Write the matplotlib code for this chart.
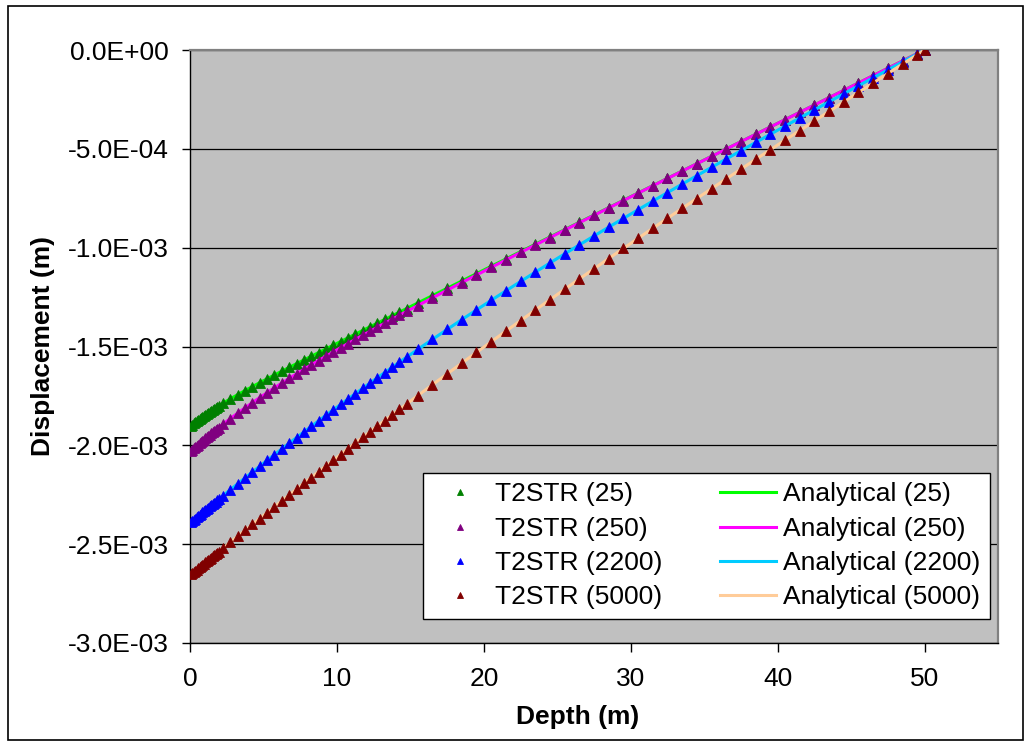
import numpy as np
import matplotlib
matplotlib.use("Agg")
import matplotlib.pyplot as plt
from matplotlib.patches import Rectangle
from matplotlib.ticker import FuncFormatter

plt.rcParams['font.family'] = ['Liberation Sans', 'DejaVu Sans']

# element centres of the mesh (m), surface at 0, fixed base at 50
depth = [0.05, 0.15, 0.25, 0.35, 0.45, 0.55, 0.65, 0.75, 0.85, 0.95,
         1.05, 1.15, 1.25, 1.35, 1.45, 1.55, 1.65, 1.75, 1.85, 1.95,
         2.25, 2.75, 3.25, 3.75, 4.25, 4.75, 5.25, 5.75, 6.25, 6.75,
         7.25, 7.75, 8.25, 8.75, 9.25, 9.75, 10.25, 10.75, 11.25, 11.75,
         12.25, 12.75, 13.25, 13.75, 14.25, 14.75, 15.5, 16.5, 17.5, 18.5,
         19.5, 20.5, 21.5, 22.5, 23.5, 24.5, 25.5, 26.5, 27.5, 28.5,
         29.5, 30.5, 31.5, 32.5, 33.5, 34.5, 35.5, 36.5, 37.5, 38.5,
         39.5, 40.5, 41.5, 42.5, 43.5, 44.5, 45.5, 46.5, 47.5, 48.5,
         49.5, 50.0]

# displacement in units of 1E-03 m
disp_25 = [-1.9018, -1.8956, -1.8895, -1.8836, -1.8778, -1.8720, -1.8664, -1.8609, -1.8555, -1.8501,
           -1.8448, -1.8396, -1.8345, -1.8295, -1.8245, -1.8196, -1.8148, -1.8100, -1.8053, -1.8006,
           -1.7868, -1.7648, -1.7434, -1.7228, -1.7026, -1.6829, -1.6634, -1.6441, -1.6250, -1.6060,
           -1.5871, -1.5683, -1.5496, -1.5309, -1.5122, -1.4936, -1.4749, -1.4564, -1.4377, -1.4191,
           -1.4005, -1.3820, -1.3634, -1.3449, -1.3263, -1.3078, -1.2799, -1.2428, -1.2057, -1.1686,
           -1.1315, -1.0944, -1.0573, -1.0202, -0.9831, -0.9460, -0.9089, -0.8718, -0.8347, -0.7976,
           -0.7605, -0.7234, -0.6863, -0.6492, -0.6121, -0.5750, -0.5379, -0.5008, -0.4637, -0.4266,
           -0.3895, -0.3524, -0.3153, -0.2782, -0.2411, -0.2040, -0.1669, -0.1298, -0.0927, -0.0556,
           -0.0185, 0.0]

disp_250 = [-2.0286, -2.0220, -2.0154, -2.0089, -2.0024, -1.9960, -1.9896, -1.9832, -1.9769, -1.9707,
            -1.9644, -1.9582, -1.9521, -1.9460, -1.9399, -1.9339, -1.9279, -1.9220, -1.9161, -1.9102,
            -1.8928, -1.8645, -1.8369, -1.8101, -1.7840, -1.7585, -1.7334, -1.7090, -1.6850, -1.6615,
            -1.6383, -1.6156, -1.5931, -1.5711, -1.5492, -1.5277, -1.5063, -1.4853, -1.4643, -1.4437,
            -1.4231, -1.4028, -1.3825, -1.3625, -1.3424, -1.3226, -1.2930, -1.2539, -1.2150, -1.1765,
            -1.1382, -1.1000, -1.0621, -1.0242, -0.9865, -0.9489, -0.9113, -0.8739, -0.8364, -0.7991,
            -0.7617, -0.7245, -0.6872, -0.6500, -0.6127, -0.5755, -0.5384, -0.5012, -0.4640, -0.4269,
            -0.3897, -0.3526, -0.3155, -0.2783, -0.2412, -0.2041, -0.1670, -0.1298, -0.0927, -0.0556,
            -0.0185, 0.0]

disp_2200 = [-2.3889, -2.3827, -2.3765, -2.3703, -2.3642, -2.3580, -2.3519, -2.3457, -2.3396, -2.3334,
             -2.3273, -2.3212, -2.3150, -2.3089, -2.3028, -2.2967, -2.2907, -2.2846, -2.2785, -2.2724,
             -2.2543, -2.2242, -2.1942, -2.1644, -2.1348, -2.1054, -2.0762, -2.0471, -2.0182, -1.9894,
             -1.9609, -1.9325, -1.9043, -1.8763, -1.8484, -1.8208, -1.7933, -1.7660, -1.7388, -1.7118,
             -1.6850, -1.6584, -1.6320, -1.6057, -1.5796, -1.5537, -1.5151, -1.4642, -1.4139, -1.3642,
             -1.3151, -1.2666, -1.2186, -1.1711, -1.1241, -1.0776, -1.0316, -0.9860, -0.9409, -0.8962,
             -0.8520, -0.8081, -0.7646, -0.7214, -0.6785, -0.6359, -0.5936, -0.5515, -0.5096, -0.4679,
             -0.4264, -0.3851, -0.3440, -0.3030, -0.2622, -0.2215, -0.1810, -0.1406, -0.1003, -0.0601,
             -0.0200, 0.0]

disp_5000 = [-2.6532, -2.6471, -2.6411, -2.6350, -2.6289, -2.6229, -2.6168, -2.6107, -2.6047, -2.5986,
             -2.5925, -2.5865, -2.5804, -2.5744, -2.5683, -2.5623, -2.5563, -2.5502, -2.5442, -2.5381,
             -2.5201, -2.4900, -2.4599, -2.4299, -2.4000, -2.3702, -2.3404, -2.3106, -2.2810, -2.2514,
             -2.2219, -2.1925, -2.1631, -2.1339, -2.1047, -2.0755, -2.0465, -2.0176, -1.9888, -1.9601,
             -1.9315, -1.9031, -1.8748, -1.8466, -1.8186, -1.7907, -1.7490, -1.6937, -1.6388, -1.5842,
             -1.5300, -1.4761, -1.4225, -1.3691, -1.3161, -1.2633, -1.2108, -1.1586, -1.1067, -1.0551,
             -1.0038, -0.9528, -0.9020, -0.8516, -0.8013, -0.7514, -0.7017, -0.6522, -0.6029, -0.5538,
             -0.5049, -0.4562, -0.4076, -0.3592, -0.3109, -0.2628, -0.2148, -0.1669, -0.1191, -0.0714,
             -0.0238, 0.0]

times = ['25', '250', '2200', '5000']
series = [disp_25, disp_250, disp_2200, disp_5000]
marker_colors = ['#008000', '#800080', '#0000FF', '#800000']
line_colors = ['#00FF00', '#FF00FF', '#00CCFF', '#FFCC99']

xticks = [0, 10, 20, 30, 40, 50]
yticks = [-3.0e-3, -2.5e-3, -2.0e-3, -1.5e-3, -1.0e-3, -5.0e-4, 0.0]

fig = plt.figure(figsize=(10.31, 7.47), dpi=100)
ax = fig.add_axes([190 / 1031, 1 - 643 / 747, 808 / 1031, 593 / 747])
ax.set_facecolor('#C0C0C0')

fs = 19
mk_handles = []
ln_handles = []
for t, vals, mc, lc in zip(times, series, marker_colors, line_colors):
    u = np.array(vals) * 1e-3
    ln, = ax.plot(depth, u, '-', color=lc, lw=2.2, zorder=3,
                  label='Analytical (%s)' % t)
    mk, = ax.plot(depth, u, ls='none', marker='^', ms=7, color=mc,
                  mec=mc, mew=0.6, zorder=3, label='T2STR (%s)' % t)
    ln_handles.append(ln)
    mk_handles.append(mk)

ax.set_xlim(0, 55)
ax.set_ylim(-3.0e-3, 0.0)
ax.set_xticks(xticks)
ax.set_yticks(yticks)
ax.yaxis.set_major_formatter(FuncFormatter(lambda v, p: '%.1E' % (0.0 if abs(v) < 1e-12 else v)))
ax.tick_params(axis='x', direction='out', length=6.5, width=1, pad=11, labelsize=fs)
ax.tick_params(axis='y', direction='out', length=5.5, width=1, pad=10, labelsize=fs)
ax.yaxis.grid(True, color='black', lw=0.9)
ax.set_axisbelow(True)

for side in ['top', 'right']:
    ax.spines[side].set_color('#808080')
    ax.spines[side].set_linewidth(1.6)
for side in ['left', 'bottom']:
    ax.spines[side].set_color('black')
    ax.spines[side].set_linewidth(1.0)

ax.set_xlabel('Depth (m)', fontsize=fs, fontweight='bold')
ax.set_ylabel('Displacement (m)', fontsize=fs, fontweight='bold')
ax.xaxis.set_label_coords(0.48, -0.105)
ax.yaxis.set_label_coords(-0.167, 0.5)

leg = ax.legend(handles=mk_handles + ln_handles, ncol=2, loc='upper left',
                bbox_to_anchor=(423 / 1031, 1 - 473 / 747), bbox_transform=fig.transFigure,
                borderaxespad=0, fontsize=fs, frameon=True, fancybox=False,
                edgecolor='black', framealpha=1, handlelength=2.1, handletextpad=0.27,
                columnspacing=2.2, borderpad=0.36, labelspacing=0.39, markerscale=0.65)
leg.get_frame().set_linewidth(1.0)

fig.patches.append(Rectangle((8 / 1031, 1 - 740 / 747), 1015 / 1031, 734 / 747,
                             transform=fig.transFigure, fill=False,
                             edgecolor='black', lw=1.2))

fig.savefig('out.png', dpi=100)
